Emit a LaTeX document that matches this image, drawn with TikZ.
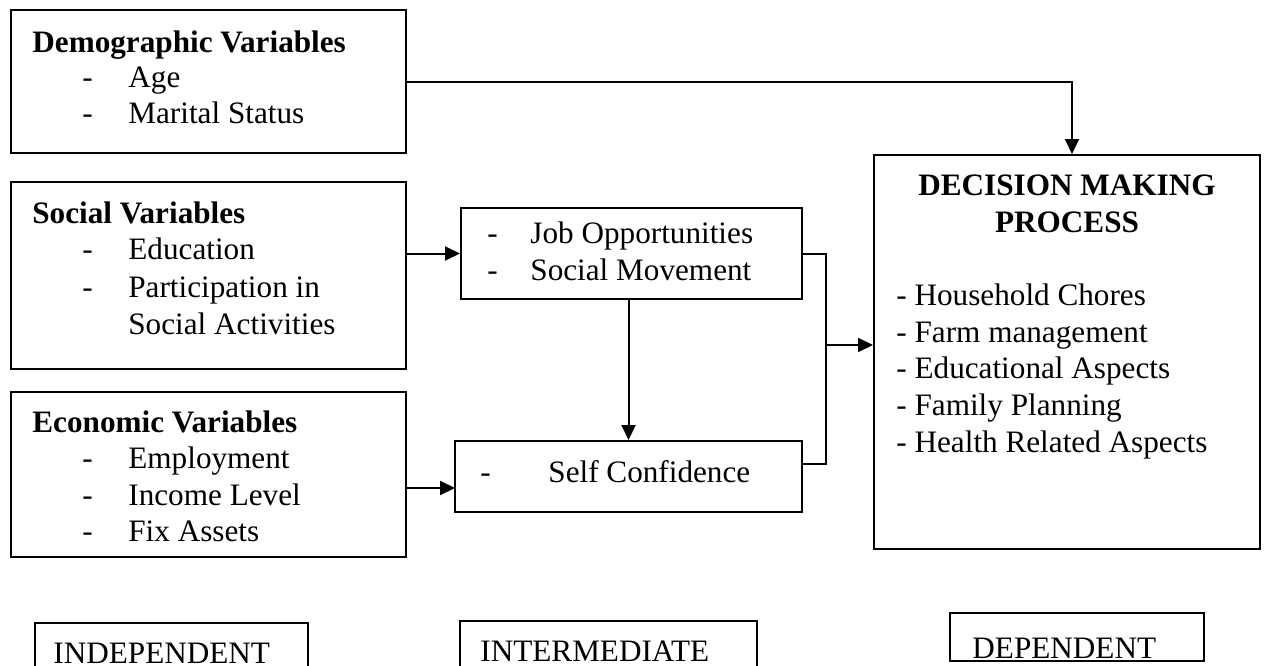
\documentclass[tikz,border=0pt]{standalone}
\usepackage{fontspec}
\setmainfont{Liberation Serif}
\usetikzlibrary{arrows.meta,fit}
\begin{document}
\begin{tikzpicture}[x=0.5pt,y=-0.5pt,
  box/.style={draw,line width=1pt,inner sep=0pt,rectangle},
  txt/.style={anchor=base west,inner sep=0pt,font=\fontsize{15.6}{18}\selectfont},
  head/.style={txt,font=\fontsize{15.6}{18}\selectfont\bfseries},
  link/.style={line width=1pt},
  arr/.style={link,-{Triangle[length=7.5pt,width=7pt]}}]
\clip (0,0) rectangle (1264,665);
\useasboundingbox (0,0) rectangle (1264,665);

% ---------- boxes ----------
\node[box,fit={(11,10) (406,153)}]   (demo)   {};
\node[box,fit={(11,182) (406,369)}]  (social) {};
\node[box,fit={(11,392) (406,557)}]  (econ)   {};
\node[box,fit={(461,208) (802,299)}] (job)    {};
\node[box,fit={(455,441) (802,512)}] (self)   {};
\node[box,fit={(874,155) (1260,549)}] (decision) {};
\node[box,fit={(35,623) (308,690)}]  (indep)  {};
\node[box,fit={(460,621) (757,690)}] (inter)  {};
\node[box,fit={(950,613) (1204,661)}] (dep)   {};

% ---------- demographic ----------
\node[head] (demoT) at (32,52) {Demographic Variables};
\node[txt] (demoD1) at (82,87)  {-};
\node[txt] (demoI1) at (128,87) {Age};
\node[txt] (demoD2) at (82,123) {-};
\node[txt] (demoI2) at (128,123) {Marital Status};

% ---------- social ----------
\node[head] (socT) at (32,223) {Social Variables};
\node[txt] (socD1) at (82,259)  {-};
\node[txt] (socI1) at (128,259) {Education};
\node[txt] (socD2) at (82,297)  {-};
\node[txt] (socI2) at (128,297) {Participation in};
\node[txt] (socI3) at (128,334) {Social Activities};

% ---------- economic ----------
\node[head] (ecoT) at (32,432) {Economic Variables};
\node[txt] (ecoD1) at (82,468)  {-};
\node[txt] (ecoI1) at (128,468) {Employment};
\node[txt] (ecoD2) at (82,505)  {-};
\node[txt] (ecoI2) at (128,505) {Income Level};
\node[txt] (ecoD3) at (82,541)  {-};
\node[txt] (ecoI3) at (128,541) {Fix Assets};

% ---------- intermediate ----------
\node[txt] (jobD1) at (487,243) {-};
\node[txt] (jobI1) at (530,243) {Job Opportunities};
\node[txt] (jobD2) at (487,280) {-};
\node[txt] (jobI2) at (530,280) {Social Movement};
\node[txt] (selfD) at (480,482) {-};
\node[txt] (selfI) at (548,482) {Self Confidence};

% ---------- dependent ----------
\node[head,anchor=base] (decT1) at (1067,195) {DECISION MAKING};
\node[head,anchor=base] (decT2) at (1067,232) {PROCESS};
\node[txt] (dec1) at (896,305) {- Household Chores};
\node[txt] (dec2) at (896,342) {- Farm management};
\node[txt] (dec3) at (896,378) {- Educational Aspects};
\node[txt] (dec4) at (896,415) {- Family Planning};
\node[txt] (dec5) at (896,452) {- Health Related Aspects};

% ---------- category labels ----------
\node[txt] (indepT) at (53,663) {INDEPENDENT};
\node[txt] (interT) at (480,661) {INTERMEDIATE};
\node[txt] (depT)   at (972,658) {DEPENDENT};

% ---------- connectors ----------
\coordinate (selfin) at (455,488);
\coordinate (jx) at (826,345);
\draw[arr] (demo.east) -| ([xshift=2.5pt]decision.north);
\draw[arr] (social.east |- job.west) -- (job.west);
\draw[arr] (econ.east |- selfin) -- (selfin);
\draw[arr] (job.south -| self.north) -- (self.north);
\draw[link] (job.east) -| (jx |- 0,464) -- (self.east |- 0,464);
\draw[arr] (jx) -- (jx -| decision.west);
\end{tikzpicture}
\end{document}
